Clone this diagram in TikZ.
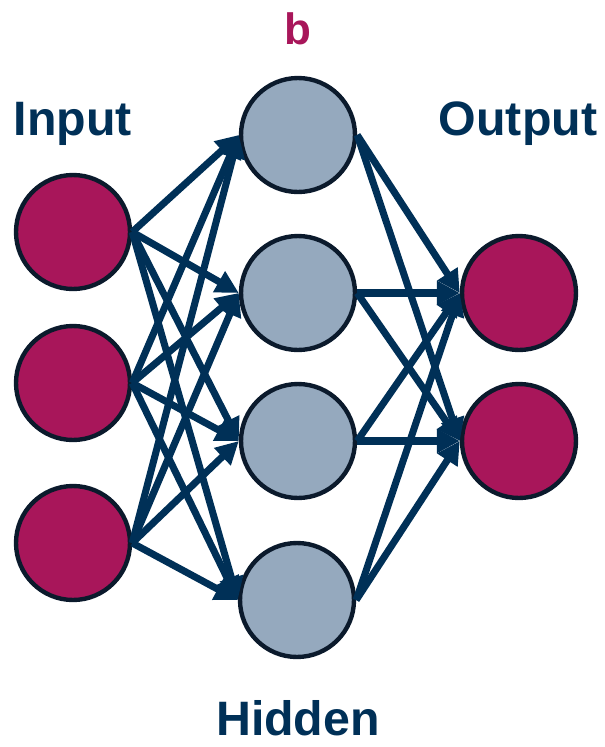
\documentclass[tikz,border=0pt]{standalone}
\usepackage{fontspec}
\setmainfont{Liberation Sans}
\usetikzlibrary{arrows.meta}
\definecolor{navy}{HTML}{003057}
\definecolor{berry}{HTML}{A8165A}
\definecolor{steel}{HTML}{95A9BE}
\definecolor{rim}{HTML}{0B1A2C}
\begin{document}
\begin{tikzpicture}[x=0.02cm, y=-0.02cm,
        neuron/.style = {draw=rim, line width=2.5pt, circle, minimum size=2.28cm, inner sep=0pt},
        inp/.style = {neuron, fill=berry},
        hid/.style = {neuron, fill=steel},
        outp/.style = {neuron, fill=berry},
        title/.style = {text=navy, font=\fontsize{27.5}{30}\selectfont\bfseries, anchor=base, inner sep=0pt},
        link/.style = {draw=navy, line width=4pt, -{Triangle[length=13pt,width=13pt]}}]
        \useasboundingbox (0,0) rectangle (605,747);

        \node[inp] (i1) at (73,232) {};
        \node[inp] (i2) at (73,383) {};
        \node[inp] (i3) at (73,543) {};
        \node[hid] (h1) at (298,135) {};
        \node[hid] (h2) at (298,293) {};
        \node[hid] (h3) at (298,441) {};
        \node[hid] (h4) at (297,600) {};
        \node[outp] (o1) at (519,293) {};
        \node[outp] (o2) at (519,441) {};

        \node[title] (tin) at (73,135) {Input};
        \node[title] (tout) at (518,135) {Output};
        \node[title] (thid) at (298,735) {Hidden};
        \node[title, text=berry, font=\fontsize{25}{28}\selectfont\bfseries] (tb) at (298,44) {b};

        \draw[link] (i1.east) -- (h1.west);
        \draw[link] (i1.east) -- (h2.west);
        \draw[link] (i1.east) -- (h3.west);
        \draw[link] (i1.east) -- (h4.west);
        \draw[link] (i2.east) -- (h1.west);
        \draw[link] (i2.east) -- (h2.west);
        \draw[link] (i2.east) -- (h3.west);
        \draw[link] (i2.east) -- (h4.west);
        \draw[link] (i3.east) -- (h1.west);
        \draw[link] (i3.east) -- (h2.west);
        \draw[link] (i3.east) -- (h3.west);
        \draw[link] (i3.east) -- (h4.west);

        \draw[link] (h1.east) -- (o1.west);
        \draw[link] (h1.east) -- (o2.west);
        \draw[link] (h2.east) -- (o1.west);
        \draw[link] (h2.east) -- (o2.west);
        \draw[link] (h3.east) -- (o1.west);
        \draw[link] (h3.east) -- (o2.west);
        \draw[link] (h4.east) -- (o1.west);
        \draw[link] (h4.east) -- (o2.west);
    \end{tikzpicture}
\end{document}
